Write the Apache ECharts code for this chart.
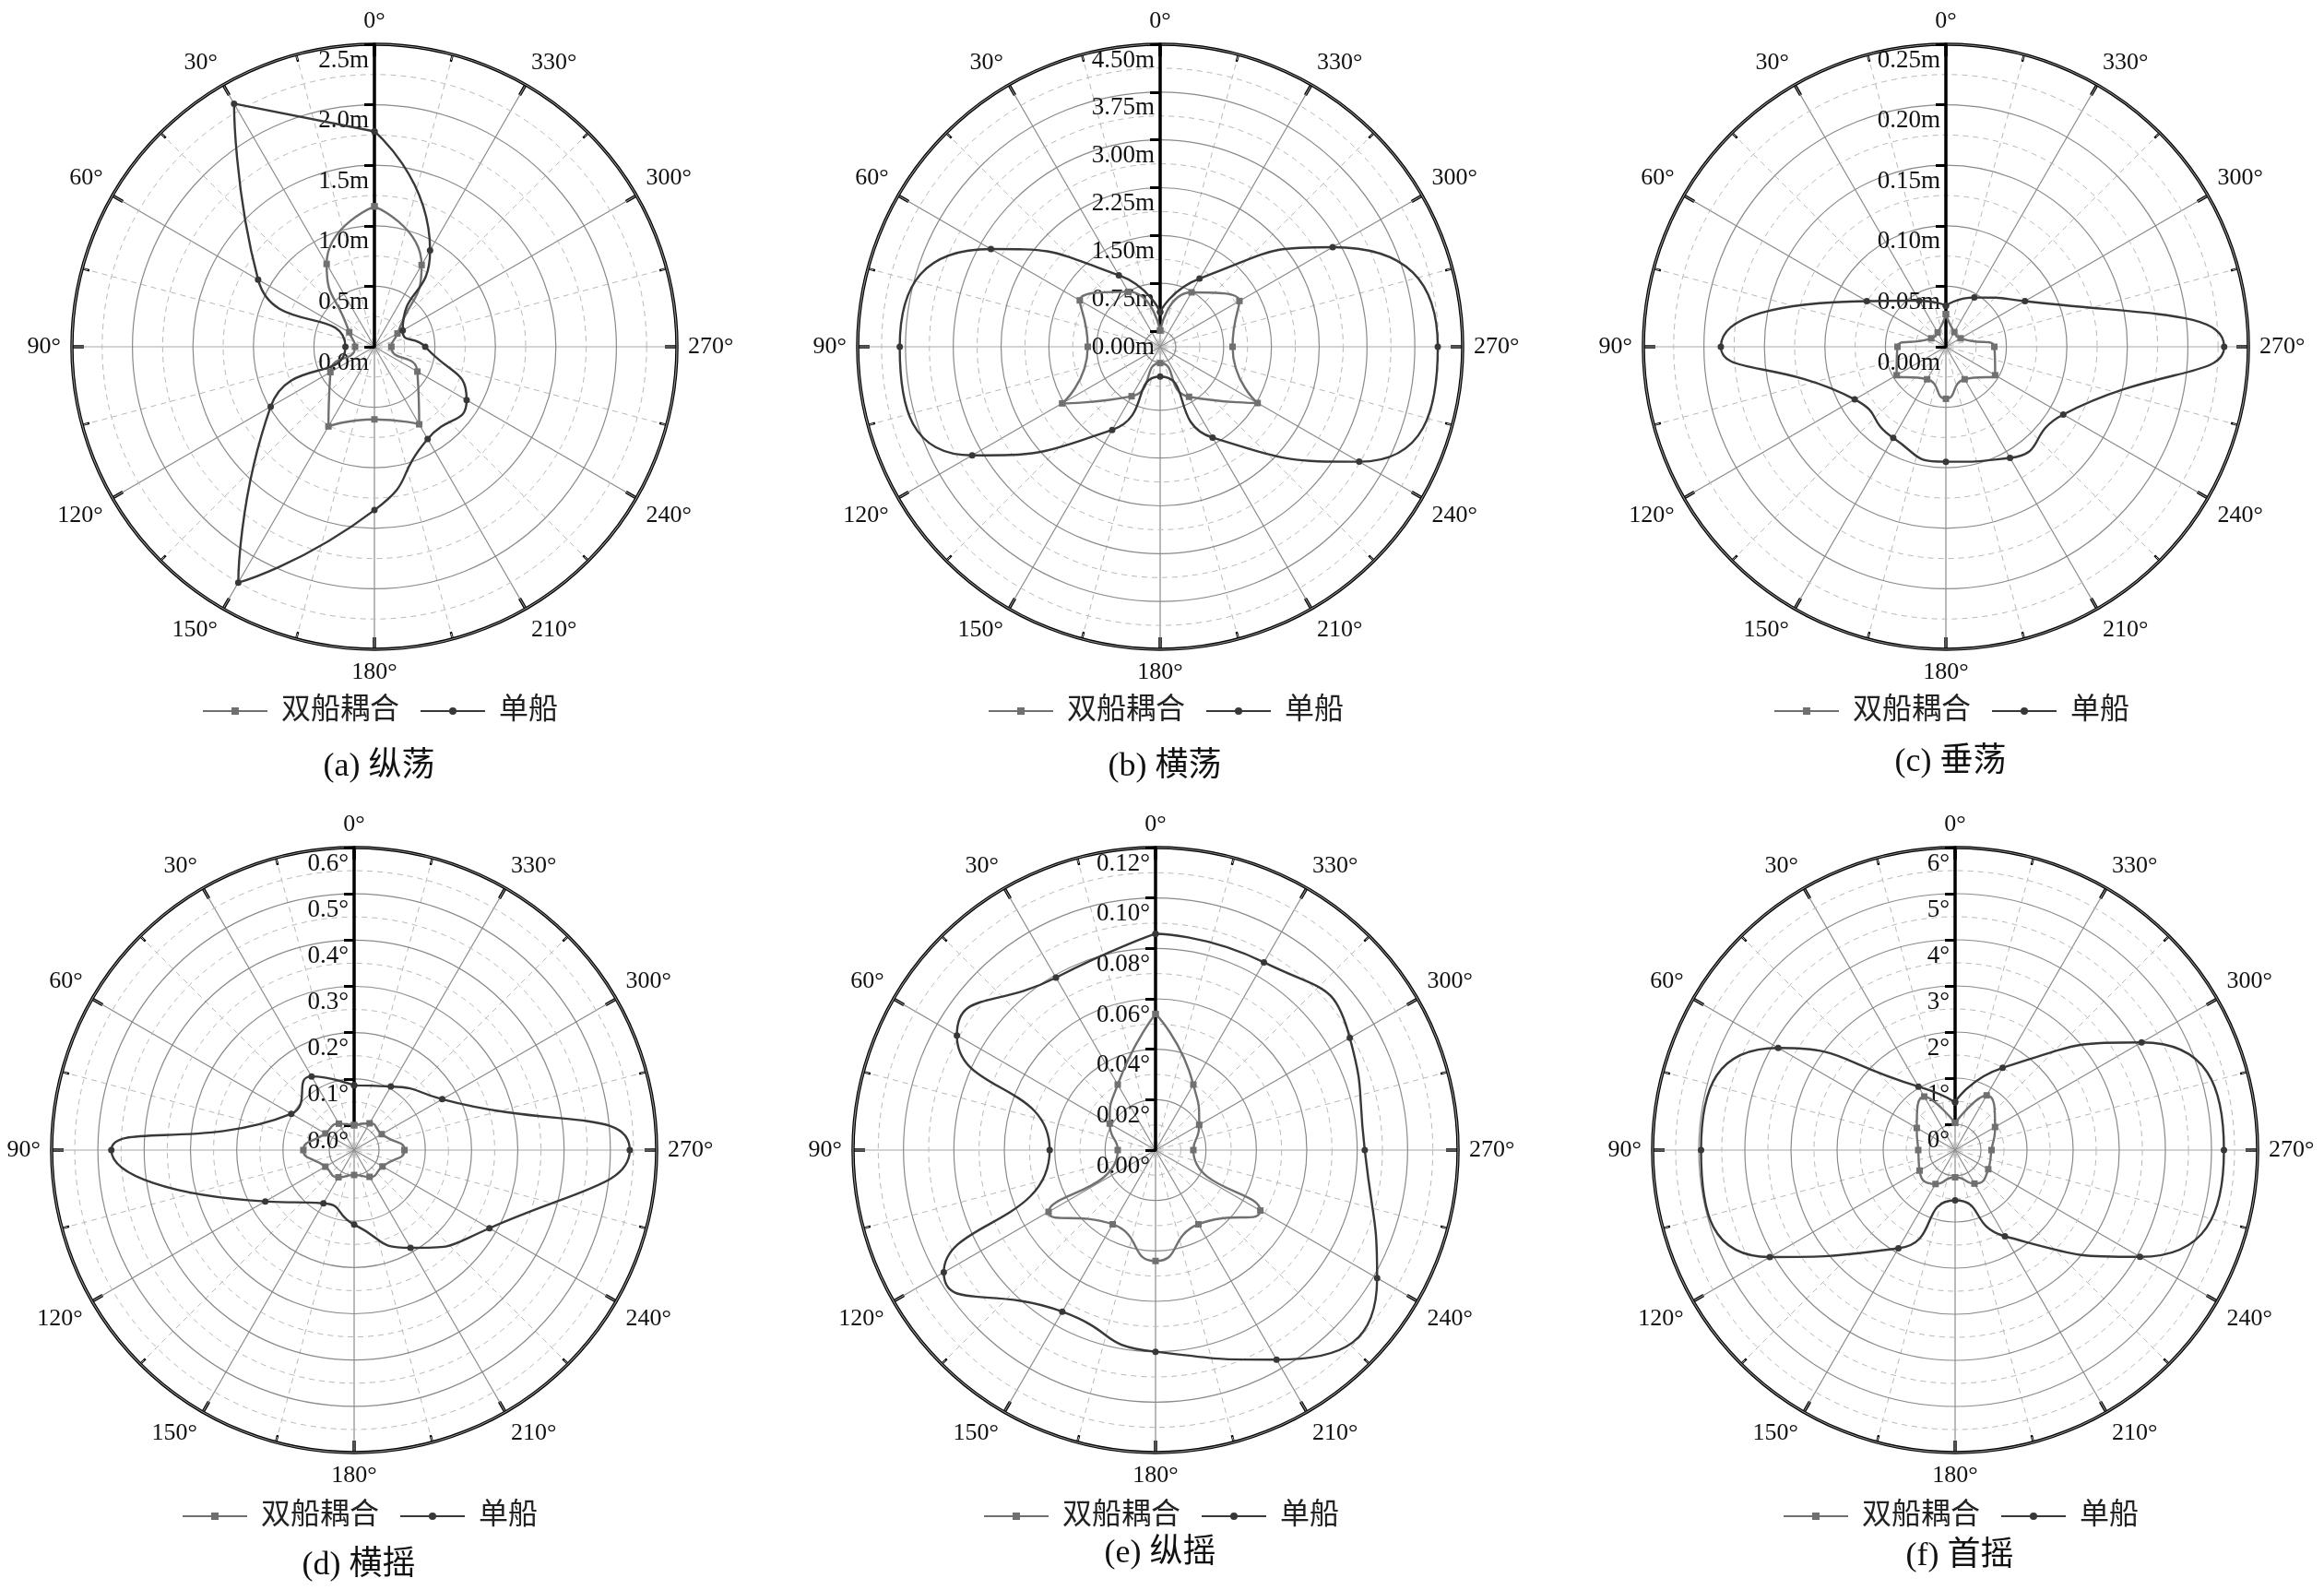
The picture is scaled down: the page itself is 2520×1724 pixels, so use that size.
<!DOCTYPE html>
<html>
<head>
<meta charset="utf-8">
<script src="https://cdn.jsdelivr.net/npm/echarts@6/dist/echarts.min.js"></script>
<style>
  html, body { margin: 0; padding: 0; background: #fff; }
  #chart { width: 2520px; height: 1724px; }
</style>
</head>
<body>
<div id="chart"></div>
<script>
// 浪向角 (每 30°)
const angles = [0, 30, 60, 90, 120, 150, 180, 210, 240, 270, 300, 330];

// (a) 纵荡
const surgeTwin   = [1.16, 0.79, 0.24, 0.16, 0.42, 0.76, 0.60, 0.74, 0.41, 0.14, 0.22, 0.78];
const surgeSingle = [1.78, 2.32, 1.11, 0.24, 0.99, 2.25, 1.35, 0.88, 0.88, 0.42, 0.27, 0.92];
// (b) 横荡
const swayTwin    = [0.01, 0.75, 1.21, 0.89, 1.53, 0.65, 0.01, 0.66, 1.52, 0.89, 1.19, 0.74];
const swaySingle  = [0.30, 1.05, 2.82, 3.84, 3.16, 1.26, 0.22, 1.40, 3.36, 4.11, 2.88, 0.99];
// (c) 垂荡
const heaveTwin   = [0.027, 0.0136, 0.014, 0.040, 0.047, 0.031, 0.043, 0.031, 0.047, 0.040, 0.014, 0.014];
const heaveSingle = [0.034, 0.044, 0.0755, 0.186, 0.087, 0.087, 0.095, 0.106, 0.112, 0.230, 0.0755, 0.047];
// (d) 横摇
const rollTwin    = [0.0, 0.012, 0.018, 0.056, 0.018, 0.014, 0.0, 0.013, 0.017, 0.055, 0.015, 0.013];
const rollSingle  = [0.086, 0.130, 0.103, 0.471, 0.168, 0.079, 0.107, 0.190, 0.284, 0.542, 0.166, 0.105];
// (e) 纵摇
const pitchTwin   = [0.054, 0.030, 0.021, 0.015, 0.049, 0.034, 0.044, 0.034, 0.048, 0.015, 0.020, 0.030];
const pitchSingle = [0.0858, 0.079, 0.091, 0.042, 0.097, 0.074, 0.080, 0.096, 0.1015, 0.083, 0.089, 0.086];
// (f) 首摇
const yawTwin     = [0.03, 0.78, 0.40, 0.24, 0.33, 0.29, 0.03, 0.28, 0.27, 0.23, 0.44, 0.81];
const yawSingle   = [0.48, 1.03, 3.87, 4.95, 4.08, 1.90, 0.53, 1.60, 4.07, 5.27, 4.11, 1.50];

// 径向刻度
const radiusMax  = [2.5, 4.5, 0.25, 0.6, 0.12, 6];
const radiusStep = [0.5, 0.75, 0.05, 0.1, 0.02, 1];
const labelDigits = [1, 2, 2, 1, 2, 0];
const labelUnits = ["m", "m", "m", "°", "°", "°"];
const captions = ["(a) 纵荡", "(b) 横荡", "(c) 垂荡", "(d) 横摇", "(e) 纵摇", "(f) 首摇"];
const seriesNames = ["双船耦合", "单船"];

const twinData = [surgeTwin, swayTwin, heaveTwin, rollTwin, pitchTwin, yawTwin];
const singleData = [surgeSingle, swaySingle, heaveSingle, rollSingle, pitchSingle, yawSingle];

// 布局
const panels = [
  { cx: 406, cy: 376, inner: 0, legendY: 750, titleY: 809 },
  { cx: 1258, cy: 376, inner: 17, legendY: 750, titleY: 809 },
  { cx: 2110, cy: 376, inner: 0, legendY: 750, titleY: 804 },
  { cx: 384, cy: 1247, inner: 27, legendY: 1623, titleY: 1675 },
  { cx: 1253, cy: 1247, inner: 0, legendY: 1623, titleY: 1662 },
  { cx: 2120, cy: 1247, inner: 28, legendY: 1623, titleY: 1665 },
];
const N = panels.length;
const R = 328;
const serif = '"Liberation Serif", "Times New Roman", serif';
const cjk = '"Liberation Serif", "Noto Sans CJK SC", sans-serif';
const twinColor = "#707070";
const singleColor = "#383838";
const gridColor = "#8a8a8a";
const minorColor = "#b8b8b8";

const chart = echarts.init(document.getElementById("chart"));

const spokeColors = [];
for (let i = 0; i < 12; i++) spokeColors.push(i % 6 === 3 ? "#a8a8a8" : gridColor);

function closeLoop(values) {
  const pts = angles.map((a, k) => [values[k], a]);
  pts.push([values[0], 360]);
  return pts;
}

// 0..N-1: 外框(角度轴)；N..2N-1: 数据坐标(径向轴，带内偏移)
const polar = [];
const angleAxis = [];
const radiusAxis = [];

panels.forEach((p, i) => {
  polar.push({ center: [p.cx, p.cy], radius: [0, R] });
  angleAxis.push({
    polarIndex: i,
    type: "value",
    min: 0,
    max: 360,
    interval: 30,
    startAngle: 90,
    clockwise: false,
    axisLine: { lineStyle: { color: "#000", width: 3.5 } },
    axisTick: { show: true, inside: true, length: 13, lineStyle: { color: "#000", width: 3.5 } },
    minorTick: { show: true, splitNumber: 2, length: 8, lineStyle: { color: "#000", width: 2.5 } },
    axisLabel: { formatter: "{value}°", fontFamily: serif, fontSize: 26, color: "#111", margin: 12 },
    splitLine: { show: true, lineStyle: { color: spokeColors, width: 1.2 } },
    minorSplitLine: { show: true, lineStyle: { color: minorColor, width: 1, type: [6, 5] } },
    z: 1,
  });
  radiusAxis.push({ polarIndex: i, type: "value", min: 0, max: 1, show: false });
});

panels.forEach((p, i) => {
  polar.push({ center: [p.cx, p.cy], radius: [p.inner, R] });
  angleAxis.push({
    polarIndex: N + i,
    type: "value",
    min: 0,
    max: 360,
    startAngle: 90,
    clockwise: false,
    show: false,
  });
  radiusAxis.push({
    polarIndex: N + i,
    type: "value",
    min: 0,
    max: radiusMax[i],
    interval: radiusStep[i],
    axisLine: { lineStyle: { color: "#000", width: 3.5 } },
    axisTick: { show: true, length: 11, lineStyle: { color: "#000", width: 3 } },
    minorTick: { show: false, splitNumber: 2 },
    axisLabel: {
      formatter: (v) => v.toFixed(labelDigits[i]) + labelUnits[i],
      fontFamily: serif,
      fontSize: 27,
      color: "#111",
      margin: 6,
      verticalAlign: "top",
      padding: [4, 0, 0, 0],
    },
    splitLine: { show: true, lineStyle: { color: gridColor, width: 1.2 } },
    minorSplitLine: { show: true, lineStyle: { color: minorColor, width: 1, type: [6, 5] } },
    z: 5,
  });
});

const option = {
  backgroundColor: "#fff",
  animation: false,
  polar: polar,
  angleAxis: angleAxis,
  radiusAxis: radiusAxis,
  legend: panels.map((p) => ({
    data: seriesNames,
    left: p.cx - 192,
    top: p.legendY,
    orient: "horizontal",
    itemWidth: 70,
    itemHeight: 10,
    itemGap: 22,
    textStyle: { fontFamily: cjk, fontSize: 32, color: "#222", padding: [0, 0, 0, 10] },
    selectedMode: false,
  })),
  title: panels.map((p, i) => ({
    text: captions[i],
    left: p.cx,
    top: p.titleY,
    textAlign: "center",
    textStyle: { fontFamily: cjk, fontSize: 36, fontWeight: "normal", color: "#111" },
  })),
  series: [],
};

panels.forEach((p, i) => {
  option.series.push({
    name: seriesNames[0],
    type: "line",
    coordinateSystem: "polar",
    polarIndex: N + i,
    smooth: 0.6,
    symbol: "rect",
    symbolSize: 7,
    lineStyle: { color: twinColor, width: 2.4 },
    itemStyle: { color: twinColor },
    data: closeLoop(twinData[i]),
    z: 10,
  });
  option.series.push({
    name: seriesNames[1],
    type: "line",
    coordinateSystem: "polar",
    polarIndex: N + i,
    smooth: 0.6,
    symbol: "circle",
    symbolSize: 7,
    lineStyle: { color: singleColor, width: 2.4 },
    itemStyle: { color: singleColor },
    data: closeLoop(singleData[i]),
    z: 11,
  });
});

chart.setOption(option);
</script>
</body>
</html>
